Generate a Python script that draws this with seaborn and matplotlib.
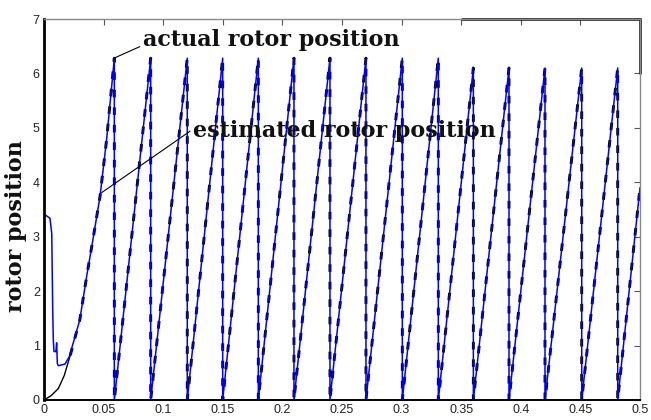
import numpy as np
import pandas as pd
import matplotlib
matplotlib.use("Agg")
import matplotlib.pyplot as plt
from matplotlib.lines import Line2D
import seaborn as sns

# ---- data ----
# start-up of the actual rotor position (black)
actual_start_t = [0.0, 0.0, 0.006, 0.012, 0.017, 0.022, 0.030, 0.036, 0.041, 0.047, 0.0525, 0.0565, 0.0590]
actual_start_v = [6.28, 0.0, 0.08, 0.21, 0.45, 0.82, 1.47, 2.30, 2.94, 3.74, 4.78, 5.70, 6.28]
# start-up of the estimated rotor position (blue)
est_start_t = [0.0, 0.0, 0.001, 0.005, 0.0065, 0.0073, 0.0078, 0.0084, 0.0100, 0.0106, 0.0112,
               0.012, 0.0176, 0.0213, 0.030, 0.036, 0.041, 0.047, 0.0525, 0.0565, 0.0590]
est_start_v = [0.0, 3.40, 3.40, 3.34, 3.06, 1.65, 1.10, 0.89, 0.89, 1.05, 0.67,
               0.63, 0.66, 0.80, 1.47, 2.30, 2.94, 3.74, 4.78, 5.70, 6.28]
# steady state: times where the angle wraps to 0 and the peak reached before each wrap
wrap_times = [0.0590, 0.0895, 0.1202, 0.1499, 0.1798, 0.2097, 0.2399, 0.2701,
              0.3006, 0.3308, 0.3602, 0.3901, 0.4203, 0.4511, 0.4813]
peak_values = [6.28, 6.28, 6.28, 6.28, 6.28, 6.28, 6.28, 6.28,
               6.28, 6.28, 6.10, 6.10, 6.10, 6.10, 6.10]
end_time = 0.5
end_value = 3.90

x_ticks = [0, 0.05, 0.1, 0.15, 0.2, 0.25, 0.3, 0.35, 0.4, 0.45, 0.5]
x_tick_labels = ["0", "0.05", "0.1", "0.15", "0.2", "0.25", "0.3", "0.35", "0.4", "0.45", "0.5"]
y_ticks = [0, 1, 2, 3, 4, 5, 6, 7]


def sawtooth(start_t, start_v):
    t = list(start_t)
    v = list(start_v)
    t.append(wrap_times[0]); v.append(0.0)
    for i in range(1, len(wrap_times)):
        t.append(wrap_times[i]); v.append(peak_values[i])
        t.append(wrap_times[i]); v.append(0.0)
    t.append(end_time); v.append(end_value)
    return t, v


at, av = sawtooth(actual_start_t, actual_start_v)
et, ev = sawtooth(est_start_t, est_start_v)
df_act = pd.DataFrame({"t": at, "theta": av})
df_est = pd.DataFrame({"t": et, "theta": ev})
n_thin = 6  # start-up part of the actual curve drawn as a thin solid line
df_act_start = df_act.iloc[:n_thin]
df_act_run = df_act.iloc[n_thin - 1:]

sns.set_theme(style="white")
plt.rcParams["font.family"] = ["Liberation Sans", "DejaVu Sans"]

fig = plt.figure(figsize=(6.51, 4.20), dpi=100)
ax = fig.add_axes([44 / 651, 1 - 400 / 420, (640 - 44) / 651, (400 - 19) / 420])

sns.lineplot(data=df_act_start, x="t", y="theta", sort=False, estimator=None, ax=ax,
             color="black", linewidth=1.0)
sns.lineplot(data=df_act_run, x="t", y="theta", sort=False, estimator=None, ax=ax,
             color="black", linewidth=2.1)
ax.lines[-1].set_dashes([2.6, 3.4])
sns.lineplot(data=df_est, x="t", y="theta", sort=False, estimator=None, ax=ax,
             color="#0000ff", linewidth=1.1)

ax.set_xlim(0, 0.5)
ax.set_ylim(0, 7)
ax.set_xticks(x_ticks)
ax.set_xticklabels(x_tick_labels)
ax.set_yticks(y_ticks)
ax.tick_params(direction="in", length=4, width=0.8, top=True, right=True,
               labelsize=9, colors="#555555", labelcolor="#222222", pad=3)
ax.spines["left"].set_color("black")
ax.spines["left"].set_linewidth(2.0)
ax.spines["bottom"].set_color("black")
ax.spines["bottom"].set_linewidth(1.4)
for side in ("top", "right"):
    ax.spines[side].set_color("#8a8a8a")
    ax.spines[side].set_linewidth(1.0)
# darker frame piece at the upper right corner, as in the reference
ax.add_line(Line2D([(462 - 44) / 596, 1.0, 1.0], [1.0, 1.0, (400 - 73) / 381],
                   transform=ax.transAxes, color="black", linewidth=1.8,
                   clip_on=False, solid_joinstyle="miter"))

ax.set_xlabel("")
ax.set_ylabel("rotor position", family="DejaVu Serif", fontweight="bold",
              fontsize=16, color="#111111")
ax.yaxis.set_label_coords(-0.028, 0.457)

ax.annotate("actual rotor position", xy=(0.0587, 6.28), xytext=(0.0831, 6.62),
            fontsize=16, family="DejaVu Serif", fontweight="bold", color="#111111",
            va="center", ha="left",
            arrowprops=dict(arrowstyle="-", color="black", lw=0.8, shrinkA=0, shrinkB=0,
                            relpos=(0.0, 0.25)))
ax.annotate("estimated rotor position", xy=(0.0484, 3.81), xytext=(0.1253, 4.94),
            fontsize=16, family="DejaVu Serif", fontweight="bold", color="#111111",
            va="center", ha="left",
            arrowprops=dict(arrowstyle="-", color="black", lw=0.8, shrinkA=0, shrinkB=0,
                            relpos=(0.0, 0.6)))

fig.savefig("out.png", dpi=100)
